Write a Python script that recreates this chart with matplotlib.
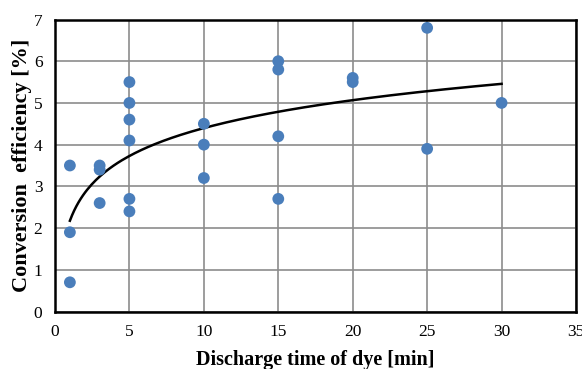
import numpy as np
import matplotlib.pyplot as plt

plt.rcParams['font.family'] = ['Liberation Serif', 'DejaVu Serif']

# 放電時間 [min] と変換効率 [%]
time_min = [1, 1, 1, 3, 3, 3, 5, 5, 5, 5, 5, 5, 10, 10, 10,
            15, 15, 15, 15, 20, 20, 25, 25, 30]
efficiency = [3.5, 1.9, 0.7, 3.5, 3.4, 2.6, 5.5, 5.0, 4.6, 4.1, 2.7, 2.4,
              4.5, 4.0, 3.2, 6.0, 5.8, 4.2, 2.7, 5.6, 5.5, 6.8, 3.9, 5.0]

# 対数近似曲線
a, b = np.polyfit(np.log(time_min), efficiency, 1)
xf = np.linspace(1, 30, 200)
yf = a * np.log(xf) + b

fig = plt.figure(figsize=(5.82, 3.69), dpi=100)
ax = fig.add_axes([55 / 582, 1 - 311.5 / 369, (576 - 55) / 582, (311.5 - 19.5) / 369])

ax.plot(xf, yf, color='black', lw=1.8, zorder=3)
ax.scatter(time_min, efficiency, s=72, color='#4A7EBB', edgecolors='none', zorder=4)

ax.set_xlim(0, 35)
ax.set_ylim(0, 7)
ax.set_xticks(range(0, 36, 5))
ax.set_yticks(range(0, 8))
ax.grid(True, color='#8c8c8c', lw=1.2)
ax.set_axisbelow(True)
for s in ax.spines.values():
    s.set_linewidth(1.8)
    s.set_color('black')
ax.tick_params(axis='x', length=0, labelsize=12.5, pad=9)
ax.tick_params(axis='y', length=0, labelsize=12.5, pad=9)

ax.set_xlabel('Discharge time of dye [min]', fontsize=14.5, fontweight='bold', labelpad=7)
ax.set_ylabel('Conversion  efficiency [%]', fontsize=16, fontweight='bold', labelpad=1)

fig.savefig('out.png', dpi=100)
